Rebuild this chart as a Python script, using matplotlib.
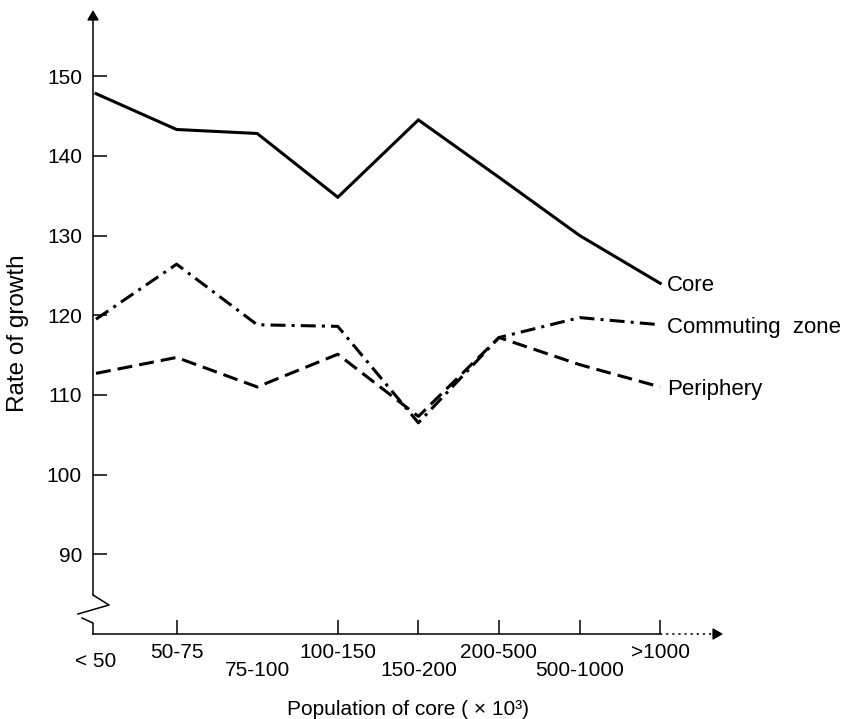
import matplotlib.pyplot as plt
from matplotlib.transforms import blended_transform_factory

plt.rcParams['font.family'] = ['Liberation Sans', 'DejaVu Sans']

categories = ['< 50', '50-75', '75-100', '100-150', '150-200', '200-500', '500-1000', '>1000']
core = [147.8, 143.3, 142.8, 134.8, 144.5, 137.3, 130.0, 124.0]
commuting = [119.5, 126.4, 118.8, 118.6, 106.5, 117.2, 119.7, 118.8]
periphery = [112.7, 114.7, 111.0, 115.1, 107.3, 117.2, 113.8, 111.0]
series_names = ['Core', 'Commuting  zone', 'Periphery']
yticks = [90, 100, 110, 120, 130, 140, 150]

fig = plt.figure(figsize=(8.54, 7.19), dpi=100)
ax = fig.add_axes([93 / 854, 85 / 719, 630 / 854, 624 / 719])

x = list(range(len(categories)))
px_x = 80.6   # pixels per category
px_y = 7.97   # pixels per unit of growth
x0 = -0.037
xmax = x0 + 630 / px_x
ymin, ymax = 80, 80 + 624 / px_y
ax.set_xlim(x0, xmax)
ax.set_ylim(ymin, ymax)
for s in ax.spines.values():
    s.set_visible(False)

# the three series
lw = 2.2
ax.plot(x, core, color='k', lw=lw, solid_joinstyle='miter')
ax.plot(x, commuting, color='k', lw=lw, dashes=(4.9, 2, 1, 2))
ax.plot(x, periphery, color='k', lw=lw, dashes=(4.9, 2.3))

for name, vals in zip(series_names, [core, commuting, periphery]):
    ax.annotate(name, xy=(x[-1], vals[-1]), xytext=(5, 0), textcoords='offset points',
                ha='left', va='center_baseline', fontsize=16)

# y axis with a break near the bottom, arrows at the ends
alw = 1.1
def to_y(py):
    return ymin + (634 - py) / px_y

ax.plot([x0, x0 + 16 / px_x, x0 - 15 / px_x], [to_y(595), to_y(605), to_y(614)],
        color='k', lw=alw, clip_on=False)
ax.plot([x0 - 11 / px_x, x0, x0], [to_y(618), to_y(623), ymin],
        color='k', lw=alw, clip_on=False)
head = '-|>,head_length=0.6,head_width=0.35'
ax.annotate('', xy=(x0, ymax), xytext=(x0, to_y(595)),
            arrowprops=dict(arrowstyle=head, lw=alw, color='k', shrinkA=0, shrinkB=0),
            annotation_clip=False)

ax.plot([x0, 7], [ymin, ymin], color='k', lw=alw, clip_on=False)
ax.plot([7, xmax - 0.1], [ymin, ymin], color='k', lw=alw, ls=(0, (1.5, 2.5)), clip_on=False)
ax.annotate('', xy=(xmax, ymin), xytext=(xmax - 0.12, ymin),
            arrowprops=dict(arrowstyle=head, lw=alw, color='k', shrinkA=0, shrinkB=0),
            annotation_clip=False)

ax.set_yticks(yticks)
ax.tick_params(axis='y', direction='in', length=10, width=alw, labelsize=15, pad=8)
ax.set_xticks([1, 3, 4, 5, 6, 7], labels=[])
ax.tick_params(axis='x', direction='in', length=10, width=alw)

# staggered category labels under the x axis
trans = blended_transform_factory(ax.transData, ax.transAxes)
for i, lab in enumerate(categories):
    if i == 0:
        dy = -20
    elif i % 2:
        dy = -13
    else:
        dy = -26.5
    ax.annotate(lab, xy=(i, 0), xycoords=trans, xytext=(0, dy), textcoords='offset points',
                ha='center', va='center', fontsize=15, annotation_clip=False)

fig.text(287 / 854, 1 - 715 / 719, 'Population of core ( \u00d7 10\u00b3)',
         ha='left', va='baseline', fontsize=15)
fig.text(18 / 854, 1 - 333 / 719, 'Rate of growth', rotation=90,
         ha='center', va='center', fontsize=17.5)

fig.savefig('out.png', dpi=100)
